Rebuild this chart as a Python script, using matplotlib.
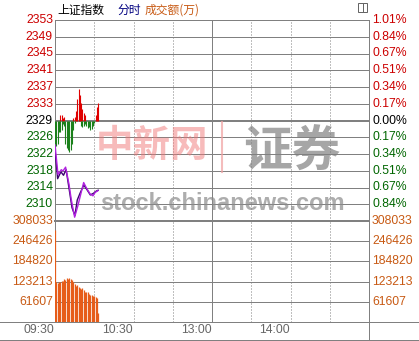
import matplotlib.pyplot as plt
from matplotlib.lines import Line2D
from matplotlib.patches import Rectangle

plt.rcParams['font.family'] = ['Liberation Sans', 'Noto Sans CJK SC', 'DejaVu Sans']

# ---- 数据 ----
base = 2329.4          # 昨收
step = 3.915           # 0.17% 一格
price_labels = ['2310', '2314', '2318', '2322', '2326', '2329',
                '2333', '2337', '2341', '2345', '2349', '2353']
pct_labels = ['0.84%', '0.67%', '0.51%', '0.34%', '0.17%', '0.00%',
              '0.17%', '0.34%', '0.51%', '0.67%', '0.84%', '1.01%']
vol_labels = ['61607', '123213', '184820', '246426', '308033']
vol_ticks = [61607, 123213, 184820, 246426, 308033]
time_labels = ['09:30', '10:30', '13:00', '14:00']
time_pos = [0, 60, 120, 180]

# 指数 (分钟, 点位)
idx_min = [0, 2.3, 4.8, 6.1, 8.1, 10.7, 12.4, 15, 17.5, 21.9, 23.9, 26.9, 29, 30.7, 32.8]
idx_val = [2323.7, 2316.8, 2317.9, 2317.6, 2318.5, 2314.5, 2311.0, 2306.8, 2309.5,
           2314.9, 2313.7, 2312.2, 2311.8, 2312.6, 2313.0]
# 均价
avg_min = [0, 2, 4.5, 6.5, 8.5, 11, 13, 15.2, 17, 19, 22, 24.5, 27, 29.5, 31.5, 33]
avg_val = [2322.5, 2315.8, 2317.4, 2316.6, 2317.9, 2313.0, 2309.0, 2307.2, 2310.8,
           2312.3, 2314.3, 2313.2, 2312.0, 2312.4, 2312.9, 2313.1]

# 红绿柱 (分钟, 点)
red_min = [4, 5, 6, 7, 14, 15, 16, 17, 18, 19, 20, 21, 22, 23, 31, 32, 33]
red_val = [1.2, 1.4, 0.7, 0.9, 0.5, 0.9, 2.3, 5.1, 7.4, 6.0, 4.1, 2.8, 1.8, 1.2, 1.4, 3.2, 4.1]
green_min = [0, 1, 2, 3, 4, 5, 6, 7, 8, 9, 10, 11, 12, 13, 14, 15,
             20, 21, 22, 23, 24, 25, 26, 27, 28, 29, 30]
green_val = [6.9, 6.0, 5.5, 2.8, 2.8, 2.3, 0.9, 1.4, 5.5, 6.5, 6.9, 7.4, 6.9, 5.5, 2.3, 0.7,
             1.4, 1.6, 1.4, 0.9, 1.4, 1.8, 1.6, 2.3, 2.1, 1.4, 0.5]

# 成交额 (万)
vol_min = list(range(34))
vol_val = [280000, 122000, 120000, 123000, 121000, 124000, 125000, 130000, 128000, 133000,
           131000, 134000, 130000, 127000, 121000, 115000, 110000, 112000, 108000, 104000,
           100000, 103000, 97000, 93000, 90000, 91000, 86000, 83000, 81000, 78000,
           80000, 76000, 74000, 27000]

W, H = 419, 341
RED = '#cc0000'
GREEN = '#006600'
ORANGE = '#c85a14'
GRID = '#808080'
PX = 0.72  # 1 像素的线宽

def fx(px):
  return px / W

def fy(py):
  return 1 - py / H

fig = plt.figure(figsize=(W / 100, H / 100), dpi=100)
fig.patch.set_facecolor('white')

x0, x1 = 55, 369
ax = fig.add_axes([fx(x0), fy(221), fx(x1 - x0), (221 - 20) / H])
ax2 = fig.add_axes([fx(x0), fy(322), fx(x1 - x0), (322 - 221) / H])

for a in (ax, ax2):
  a.set_xlim(0, 240)
  a.set_xticks([])
  a.set_yticks([])
  for s in a.spines.values():
    s.set_visible(False)
  a.patch.set_alpha(0)

ax.set_ylim(base - 6 * step, base + 6 * step)
ax2.set_ylim(0, vol_ticks[-1])

# 网格线
for k in range(-5, 6):
  lw = 2 * PX if k == 0 else PX
  ax.axhline(base + k * step, color=GRID, lw=lw, zorder=1)
ax.axhline(base + 6 * step, color=GRID, lw=PX, clip_on=False, zorder=1)
ax.axhline(base - 6 * step, color=GRID, lw=2 * PX, clip_on=False, zorder=1)
for v in vol_ticks[:-1]:
  ax2.axhline(v, color=GRID, lw=PX, zorder=1)

for a in (ax, ax2):
  for t in [30, 60, 90, 150, 180, 210]:
    a.axvline(t, color=GRID, lw=PX, ls=(0, (1, 2)), zorder=1)
  a.axvline(120, color=GRID, lw=PX, zorder=1)
  a.axvline(0, color=GRID, lw=PX, clip_on=False, zorder=1)

# 外框线
fig.add_artist(Line2D([0, 1], [fy(322), fy(322)], color=GRID, lw=PX))
fig.add_artist(Line2D([0, 1], [fy(340), fy(340)], color=GRID, lw=PX))
fig.add_artist(Line2D([fx(x1), fx(x1)], [fy(20), 0], color=GRID, lw=PX))

# 红绿柱
ax.vlines(red_min, base, [base + v for v in red_val], color='#e00000', lw=0.8, zorder=2)
ax.vlines(green_min, [base - v for v in green_val], base, color='#1a801a', lw=0.8, zorder=2)

# 指数线 / 均价线
ax.plot(avg_min, avg_val, color='#3a0070', lw=1.0, zorder=3)
ax.plot(idx_min, idx_val, color='#b020e0', lw=1.0, zorder=4)

# 成交额柱
ax2.vlines(vol_min, 0, vol_val, color='#e65c19', lw=0.9, zorder=2)

# 左右刻度文字
ty = ax.get_yaxis_transform()
for i, k in enumerate(range(-5, 7)):
  c = RED if k > 0 else ('black' if k == 0 else GREEN)
  ax.text(-2 / 314, base + k * step, price_labels[i], color=c, fontsize=8.8,
          ha='right', va='center', transform=ty)
  ax.text(1 + 3 / 314, base + k * step, pct_labels[i], color=c, fontsize=8.8,
          ha='left', va='center', transform=ty)

ty2 = ax2.get_yaxis_transform()
for lab, v in zip(vol_labels, vol_ticks):
  ax2.text(-2 / 314, v, lab, color=ORANGE, fontsize=8.8, ha='right', va='center', transform=ty2)
  ax2.text(1 + 3 / 314, v, lab, color=ORANGE, fontsize=8.8, ha='left', va='center', transform=ty2)

tx2 = ax2.get_xaxis_transform()
for lab, t in zip(time_labels, time_pos):
  ax2.text(t - 0.5, -8 / 101, lab, color='#666666', fontsize=8.8, ha='right', va='center',
           transform=tx2)

# 标题
cjk = ['Noto Sans CJK SC', 'DejaVu Sans']
fig.text(fx(57), fy(10), '上证指数', color='black', fontsize=8.5, family=cjk, va='center')
fig.text(fx(117), fy(10), '分时', color='#000080', fontsize=8.5, family=cjk, va='center')
fig.text(fx(145), fy(10), '成交额(万)', color=ORANGE, fontsize=8.5, family=cjk, va='center')

# 右上角小图标
fig.add_artist(Rectangle((fx(358), fy(12)), fx(9), 9 / H, fill=False, ec='#666666', lw=PX))
fig.add_artist(Line2D([fx(362.5), fx(362.5)], [fy(12), fy(3)], color='#666666', lw=PX))

# 水印
fig.text(fx(152), fy(145), '中新网', color='#f07878', alpha=0.5, fontsize=27,
         fontweight='bold', family=cjk, ha='center', va='center', style='italic')
fig.add_artist(Line2D([fx(222), fx(222)], [fy(172), fy(122)], color='#f0a0a0', lw=1.5, alpha=0.7))
fig.text(fx(292), fy(152), '证券', color='#808080', alpha=0.7, fontsize=35,
         fontweight='bold', family=cjk, ha='center', va='center')
fig.text(fx(222), fy(203), 'stock.chinanews.com', color='#8a8a8a', alpha=0.7, fontsize=17,
         fontweight='bold', ha='center', va='center')

fig.savefig('out.png', dpi=100)
